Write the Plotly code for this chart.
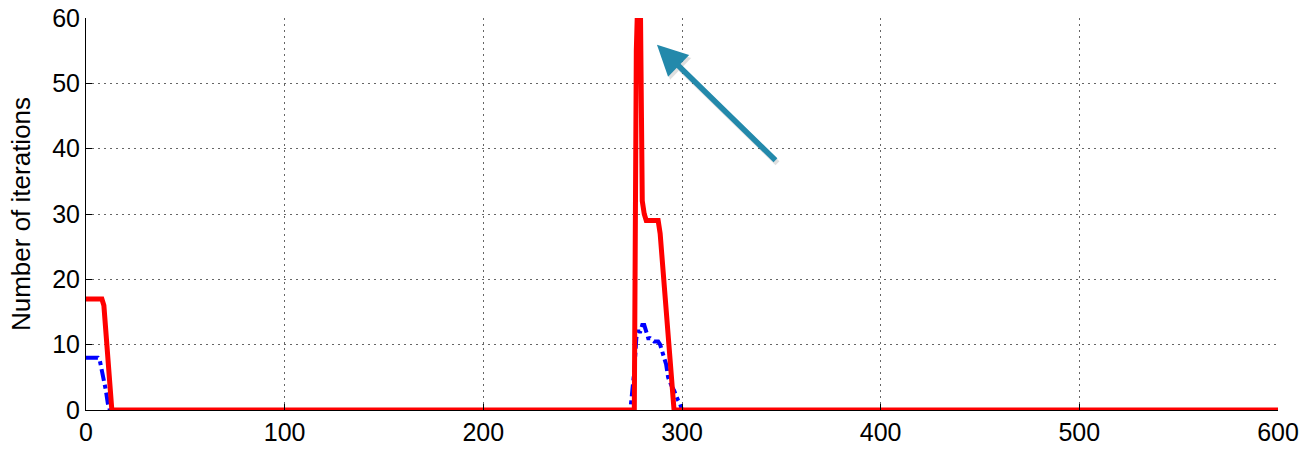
import plotly.graph_objects as go

# Iteration counts per step for the two solvers (breakpoints of piecewise-linear traces)
red_x = [0, 8, 9, 10, 11, 12, 13, 275, 276, 277, 278, 279, 280, 281, 282, 283, 288, 289, 290, 291, 292, 293, 294, 295, 296, 600]
red_y = [17, 17, 16, 12, 8, 4, 0, 0, 0, 55, 66, 64, 32, 30, 29, 29, 29, 27, 23, 20, 16, 12, 8, 4, 0, 0]

blue_x = [0, 6, 7, 8, 9, 10, 11, 12, 274, 275, 276, 277, 278, 279, 280, 281, 282, 283, 284, 286, 288, 289, 290, 291, 292, 293, 294, 295, 296, 297, 298, 299, 300, 600]
blue_y = [8, 8, 7.5, 6, 5, 3, 1, 0, 0, 3, 6, 11, 12, 12, 13, 13, 12, 11, 11, 10.5, 10.5, 10, 9, 8, 7, 5, 4, 3.5, 3, 2, 1.5, 1, 0, 0]

x_ticks = [0, 100, 200, 300, 400, 500, 600]
y_ticks = [0, 10, 20, 30, 40, 50, 60]

# Arrow pointing at the peak: tip in data units, tail as pixel offset
arrow_tip = (287.4, 55.9)
arrow_tail_offset = (120, 117)

fig = go.Figure()
fig.add_trace(go.Scatter(
    x=blue_x, y=blue_y, mode="lines",
    line=dict(color="#0000ff", width=4, dash="dashdot"),
    showlegend=False,
))
fig.add_trace(go.Scatter(
    x=red_x, y=red_y, mode="lines",
    line=dict(color="#ff0000", width=5),
    showlegend=False,
))

# soft shadow under the arrow
fig.add_annotation(
    x=arrow_tip[0], y=arrow_tip[1], xref="x", yref="y",
    ax=arrow_tail_offset[0], ay=arrow_tail_offset[1],
    text="", showarrow=True, arrowhead=2, arrowsize=1.1, arrowwidth=5.5,
    arrowcolor="rgba(0,0,0,0.12)", xshift=2, yshift=-3,
)
fig.add_annotation(
    x=arrow_tip[0], y=arrow_tip[1], xref="x", yref="y",
    ax=arrow_tail_offset[0], ay=arrow_tail_offset[1],
    text="", showarrow=True, arrowhead=2, arrowsize=1.1, arrowwidth=5.5,
    arrowcolor="#2389ab",
)

tick_font = dict(family="Liberation Sans, Arial, sans-serif", size=25, color="#000000")
grid_style = dict(showgrid=True, gridcolor="#666666", griddash="2px,4px", gridwidth=1)

fig.update_xaxes(
    range=[0, 600], tickvals=x_ticks, ticktext=[str(v) for v in x_ticks],
    showline=True, linecolor="#000000", linewidth=1,
    ticks="inside", ticklen=6, tickcolor="#000000",
    zeroline=False, tickfont=tick_font, automargin=False, **grid_style,
)
fig.update_yaxes(
    range=[0, 60], tickvals=y_ticks, ticktext=[str(v) for v in y_ticks],
    showline=True, linecolor="#000000", linewidth=1,
    ticks="inside", ticklen=6, tickcolor="#000000",
    zeroline=False, tickfont=tick_font, automargin=False, **grid_style,
    title=dict(text="Number of iterations", font=dict(family="Liberation Sans, Arial, sans-serif", size=26, color="#000000"), standoff=14),
)

fig.update_layout(
    width=1301, height=450,
    margin=dict(l=86, r=23, t=18, b=40, autoexpand=False),
    paper_bgcolor="#ffffff", plot_bgcolor="#ffffff",
)

fig.write_html("out.html")
